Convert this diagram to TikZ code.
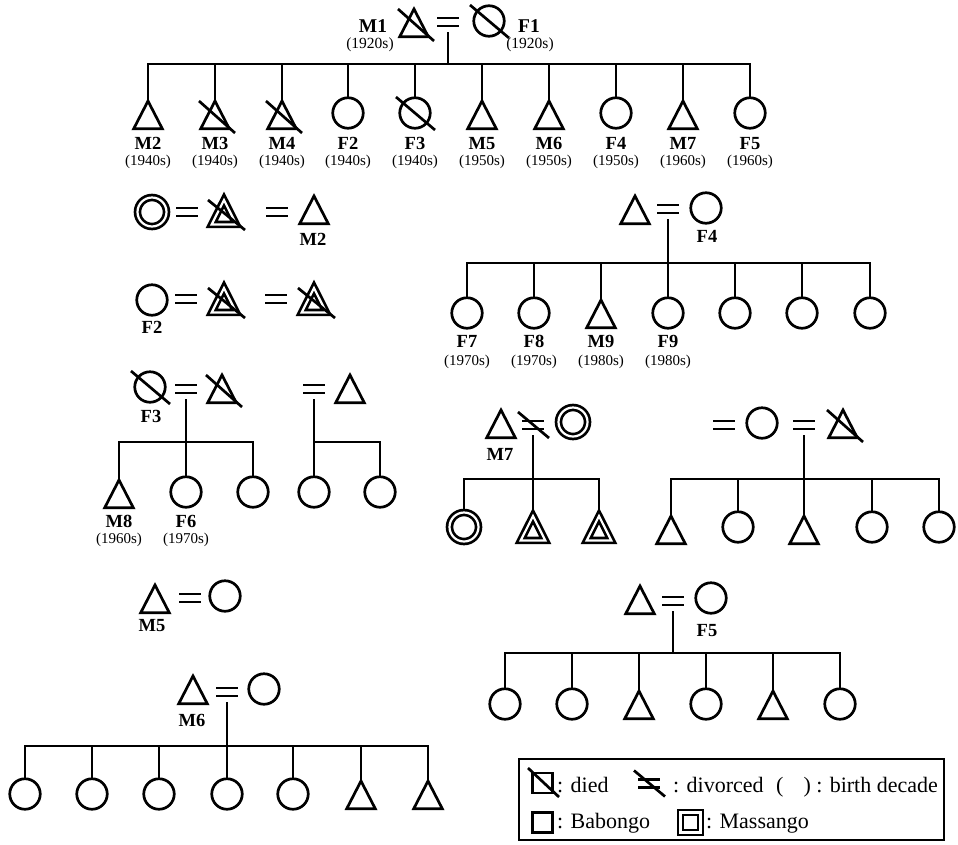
\documentclass[tikz,border=0pt]{standalone}
\usepackage{fontspec}
\setmainfont{Liberation Serif}
\usetikzlibrary{shapes.geometric,backgrounds}

\tikzset{
  ln/.style={line width=2.7pt},
  fem/.style={circle, draw, line width=2.7pt, minimum size=30.5pt, inner sep=0pt, outer sep=0pt},
  femM/.style={fem, double, double distance=2.2pt, minimum size=29pt},
  trishape/.style={regular polygon, regular polygon sides=3, draw, line width=2.7pt,
    inner sep=0pt, outer sep=0pt, anchor=north},
  mal/.style={trishape, minimum size=33pt, yscale=1.12},
  malM/.style={trishape, double, double distance=2.2pt, minimum size=28.3pt, yscale=1.15},
  lbl/.style={font=\fontsize{18.5}{20}\selectfont\bfseries, inner sep=0pt, anchor=base},
  lbltop/.style={font=\fontsize{19.5}{21}\selectfont\bfseries, inner sep=0pt, anchor=base},
  dec/.style={font=\fontsize{15}{16}\selectfont, inner sep=0pt, anchor=base},
  dectop/.style={font=\fontsize{15.5}{17}\selectfont, inner sep=0pt, anchor=base},
  leg/.style={font=\fontsize{22}{24}\selectfont, inner sep=0pt, anchor=base west},
}

% marriage sign: two short bars around a named point
\newcommand\mkwed[3]{%
  \coordinate (#1) at (#2,#3);
  \draw[ln] ([shift={(-11,-4)}]#1) -- ++(22,0) ([shift={(-11,4)}]#1) -- ++(22,0);}
% death strokes
\newcommand\strikeC[1]{\draw[ln] ([shift={(-19,-16)}]#1.center) -- ([shift={(20,17)}]#1.center);}
\newcommand\strikeT[1]{\draw[ln] ([shift={(-16,0)}]#1.north) -- ([shift={(20,32)}]#1.north);}
\newcommand\strikeTT[1]{\draw[ln] ([shift={(-16,0)}]#1.north) -- ([shift={(21,30)}]#1.north);}
% divorce stroke
\newcommand\divorce[1]{\draw[ln] ([shift={(-15,-13)}]#1) -- ([shift={(16,13)}]#1);}

\begin{document}
\begin{tikzpicture}[x=1pt,y=-1pt]
\useasboundingbox (0,0) rectangle (958,844);

% ---------- founding couple ----------
\node[mal] (m1) at (414,9) {};
\mkwed{w1}{448}{22}
\node[fem] (f1) at (489,21) {};
\node[lbltop] (lm1) at (373,32) {M1};
\node[dectop] (dm1) at (370,48) {(1920s)};
\node[lbltop] (lf1) at (529,32) {F1};
\node[dectop] (df1) at (530,48) {(1920s)};
\coordinate (b1) at (448,64);

% ---------- their children ----------
\foreach \n/\x in {m2/148, m3/215, m4/282, m5/482, m6/549, m7/683}
  \node[mal] (\n) at (\x,101) {};
\foreach \n/\x in {f2/348, f3/415, f4/616, f5/750}
  \node[fem] (\n) at (\x,113) {};
\foreach \n/\x/\t/\d in {m2/148/M2/1940s, m3/215/M3/1940s, m4/282/M4/1940s,
    f2/348/F2/1940s, f3/415/F3/1940s, m5/482/M5/1950s, m6/549/M6/1950s,
    f4/616/F4/1950s, m7/683/M7/1960s, f5/750/F5/1960s}{
  \node[lbl] (l-\n) at (\x,149) {\t};
  \node[dec] (d-\n) at (\x,165) {(\d)};
}

% ---------- M2 and his wife ----------
\node[femM] (a1) at (152,212) {};
\mkwed{w21}{187}{212}
\node[malM] (a2) at (224,200) {};
\mkwed{w22}{277}{212}
\node[mal] (m2x) at (314,196) {};
\node[lbl] (l-m2x) at (313,245) {M2};

% ---------- F2 and her husbands ----------
\node[fem] (f2x) at (152,300) {};
\node[lbl] (l-f2x) at (152,333) {F2};
\mkwed{w31}{186}{299}
\node[malM] (a3) at (224,288) {};
\mkwed{w32}{276}{299}
\node[malM] (a4) at (314,288) {};

% ---------- F4 family ----------
\node[mal] (h1) at (635,196) {};
\mkwed{w4}{668}{209}
\node[fem] (f4x) at (706,208) {};
\node[lbl] (l-f4x) at (707,242) {F4};
\coordinate (b4) at (668,263);
\foreach \n/\x in {f7/467, f8/534, f9/668, g1/735, g2/802, g3/870}
  \node[fem] (\n) at (\x,313) {};
\node[mal] (m9) at (601,300) {};
\foreach \n/\x/\t/\d in {f7/467/F7/1970s, f8/534/F8/1970s, m9/601/M9/1980s, f9/668/F9/1980s}{
  \node[lbl] (l-\n) at (\x,347) {\t};
  \node[dec] (d-\n) at (\x,365) {(\d)};
}

% ---------- F3 family ----------
\node[fem] (f3x) at (150,387) {};
\node[lbl] (l-f3x) at (151,422) {F3};
\mkwed{w5}{186}{389}
\node[mal] (a5) at (222,375) {};
\coordinate (b5) at (186,442);
\node[mal] (m8) at (119,480) {};
\node[fem] (f6) at (186,492) {};
\node[fem] (g4) at (253,492) {};
\node[lbl] (l-m8) at (119,527) {M8};
\node[dec] (d-m8) at (119,543) {(1960s)};
\node[lbl] (l-f6) at (186,527) {F6};
\node[dec] (d-f6) at (186,543) {(1970s)};

\mkwed{w6}{314}{389}
\node[mal] (a6) at (350,375) {};
\coordinate (b6) at (314,442);
\node[fem] (g5) at (314,492) {};
\node[fem] (g6) at (380,492) {};

% ---------- M7 family ----------
\node[mal] (m7x) at (501,410) {};
\node[lbl] (l-m7x) at (500,460) {M7};
\mkwed{w7}{533}{425}
\node[femM] (a7) at (573,422) {};
\coordinate (b7) at (533,479);
\node[femM] (d1) at (464,527) {};
\node[malM] (d2) at (533,516) {};
\node[malM] (d3) at (599,516) {};

% ---------- remarriage family on the right ----------
\mkwed{w8}{724}{425}
\node[fem] (g7) at (762,423) {};
\mkwed{w9}{804}{425}
\node[mal] (a8) at (843,410) {};
\coordinate (b9) at (804,479);
\foreach \n/\x in {r1/671, r3/804}
  \node[mal] (\n) at (\x,516) {};
\foreach \n/\x in {r2/738, r4/872, r5/939}
  \node[fem] (\n) at (\x,527) {};

% ---------- M5 couple ----------
\node[mal] (m5x) at (155,585) {};
\node[lbl] (l-m5x) at (152,631) {M5};
\mkwed{w10}{190}{598}
\node[fem] (g8) at (225,596) {};

% ---------- F5 family ----------
\node[mal] (h2) at (640,586) {};
\mkwed{w11}{673}{601}
\node[fem] (f5x) at (711,598) {};
\node[lbl] (l-f5x) at (707,636) {F5};
\coordinate (b11) at (673,653);
\foreach \n/\x in {s1/505, s2/572, s4/706, s6/840}
  \node[fem] (\n) at (\x,704) {};
\foreach \n/\x in {s3/639, s5/773}
  \node[mal] (\n) at (\x,691) {};

% ---------- M6 family ----------
\node[mal] (m6x) at (193,676) {};
\node[lbl] (l-m6x) at (192,726) {M6};
\mkwed{w12}{227}{692}
\node[fem] (g9) at (264,689) {};
\coordinate (b12) at (227,746);
\foreach \n/\x in {t1/25, t2/92, t3/159, t4/227, t5/293}
  \node[fem] (\n) at (\x,794) {};
\foreach \n/\x in {t6/361, t7/428}
  \node[mal] (\n) at (\x,781) {};

% ---------- descent lines ----------
\begin{scope}[on background layer]
  \draw[ln] ([shift={(0,10)}]w1) -- (b1);
  \draw[ln] (m2.north) -- (m2.north |- b1) -- (f5.north |- b1) -- (f5.north);
  \foreach \n in {m3,m4,f2,f3,m5,m6,f4,m7}
    \draw[ln] (\n.north) -- (\n.north |- b1);

  \draw[ln] ([shift={(0,10)}]w4) -- (b4);
  \draw[ln] (f7.north) -- (f7.north |- b4) -- (g3.north |- b4) -- (g3.north);
  \foreach \n in {f8,m9,f9,g1,g2}
    \draw[ln] (\n.north) -- (\n.north |- b4);

  \draw[ln] ([shift={(0,10)}]w5) -- (b5);
  \draw[ln] (m8.north) -- (m8.north |- b5) -- (g4.north |- b5) -- (g4.north);
  \draw[ln] (f6.north) -- (f6.north |- b5);

  \draw[ln] ([shift={(0,10)}]w6) -- (g5.north);
  \draw[ln] (b6) -- (g6.north |- b6) -- (g6.north);

  \draw[ln] ([shift={(0,10)}]w7) -- (b7);
  \draw[ln] (d1.north) -- (d1.north |- b7) -- (d3.north |- b7) -- (d3.north);
  \draw[ln] (d2.north) -- (d2.north |- b7);

  \draw[ln] ([shift={(0,10)}]w9) -- (b9);
  \draw[ln] (r1.north) -- (r1.north |- b9) -- (r5.north |- b9) -- (r5.north);
  \foreach \n in {r2,r3,r4}
    \draw[ln] (\n.north) -- (\n.north |- b9);

  \draw[ln] ([shift={(0,10)}]w11) -- (b11);
  \draw[ln] (s1.north) -- (s1.north |- b11) -- (s6.north |- b11) -- (s6.north);
  \foreach \n in {s2,s3,s4,s5}
    \draw[ln] (\n.north) -- (\n.north |- b11);

  \draw[ln] ([shift={(0,10)}]w12) -- (b12);
  \draw[ln] (t1.north) -- (t1.north |- b12) -- (t7.north |- b12) -- (t7.north);
  \foreach \n in {t2,t3,t4,t5,t6}
    \draw[ln] (\n.north) -- (\n.north |- b12);
\end{scope}

% ---------- deaths and divorce ----------
\strikeT{m1}
\strikeC{f1}
\strikeT{m3}
\strikeT{m4}
\strikeC{f3}
\strikeTT{a2}
\strikeTT{a3}
\strikeTT{a4}
\strikeC{f3x}
\strikeT{a5}
\strikeT{a8}
\divorce{w7}

% ---------- legend ----------
\node[draw, line width=2.4pt, minimum width=425pt, minimum height=81pt, inner sep=0pt,
      anchor=north west] (key) at (518,758) {};
\node[draw, line width=2.7pt, minimum size=20pt, inner sep=0pt] (kd) at (542.5,783) {};
\path (kd.center) ++(-14.5,-15) coordinate (kd1) (kd.center) ++(16.5,14) coordinate (kd2);
\draw[ln] (kd1) -- (kd2);
\node[leg] (td) at (557,792) {: died};
\mkwed{kw}{649}{783.5}
\divorce{kw}
\node[leg] (tv) at (673,792) {: divorced};
\node[leg] (tb) at (776,792) {(\hspace{20pt}) : birth decade};
\node[draw, line width=2.7pt, minimum size=20.5pt, inner sep=0pt] (kb) at (542.5,822.5) {};
\node[leg] (tbb) at (557,828) {: Babongo};
\node[draw, line width=2.7pt, double, double distance=2.2pt, minimum size=20pt, inner sep=0pt]
  (km) at (690.5,822.5) {};
\node[leg] (tm) at (706,828) {: Massango};
\end{tikzpicture}
\end{document}
